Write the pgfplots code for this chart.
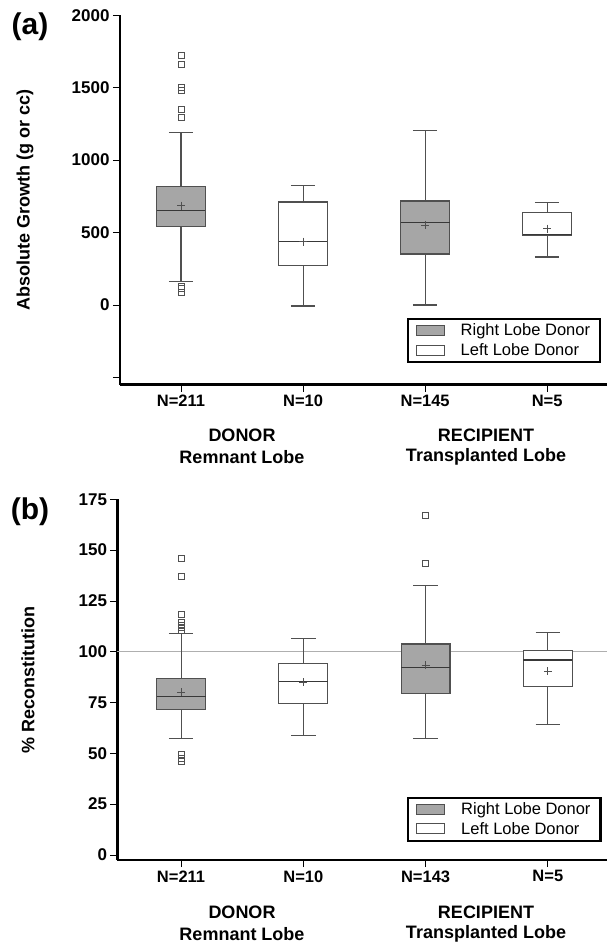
\documentclass[border=0pt]{standalone}
\usepackage{fontspec}
\setmainfont{Liberation Sans}
\usepackage{pgfplots}
\pgfplotsset{compat=1.18}
\definecolor{boxgray}{RGB}{166,166,166}
\definecolor{boxline}{RGB}{80,80,80}
\definecolor{refline}{RGB}{175,175,175}
\pgfplotsset{
  mybox/.style={
    scale only axis, anchor=south west,
    axis x line*=bottom, axis y line*=left,
    axis line style={line width=2.6pt, black, -},
    tick align=outside, major tick length=7pt,
    every tick/.style={black, line width=0.8pt},
    xtick={0,1,2,3},
    /pgf/number format/assume math mode=true,
    yticklabel style={font=\fontsize{17}{19}\selectfont\bfseries},
    xticklabel style={font=\fontsize{16.5}{19}\selectfont\bfseries},
    ylabel style={font=\fontsize{18}{20}\selectfont\bfseries, anchor=center},
    clip=false,
    every axis plot/.append style={forget plot},
    legend image code/.code={\draw[#1, line width=1pt] (0pt,-5pt) rectangle (28pt,5pt);},
    legend style={draw=black, line width=2.2pt, font=\fontsize{16.5}{19}\selectfont, anchor=south east, cells={anchor=west}, column sep=14pt, inner xsep=8pt, inner ysep=3pt, row sep=2pt},
  },
  outl/.style={only marks, mark=square, mark size=3pt, mark options={draw=boxline, fill=white, line width=0.8pt}},
  meanm/.style={only marks, mark=+, mark size=4pt, mark options={draw=boxline, line width=0.8pt}},
}
% #1 fill, #2 position, #3 lower whisker, #4 lower quartile, #5 median, #6 upper quartile, #7 upper whisker
\newcommand\drawbox[7]{%
  \pgfmathsetmacro\bL{#2-0.2}\pgfmathsetmacro\bR{#2+0.2}%
  \pgfmathsetmacro\cL{#2-0.1}\pgfmathsetmacro\cR{#2+0.1}%
  \addplot[boxline, line width=1.1pt] coordinates {(#2,#3) (#2,#4)};
  \addplot[boxline, line width=1.1pt] coordinates {(#2,#6) (#2,#7)};
  \addplot[boxline, line width=1.1pt] coordinates {(\cL,#3) (\cR,#3)};
  \addplot[boxline, line width=1.1pt] coordinates {(\cL,#7) (\cR,#7)};
  \addplot[fill=#1, draw=boxline, line width=1.1pt] coordinates {(\bL,#4) (\bR,#4) (\bR,#6) (\bL,#6)} -- cycle;
  \addplot[boxline!70!black, line width=1.4pt] coordinates {(\bL,#5) (\bR,#5)};
}
\begin{document}
\begin{tikzpicture}
\useasboundingbox (0,0) rectangle (607pt,-945pt);
% ---------- panel (a)
\begin{axis}[mybox, at={(120pt,-384.6pt)}, width=487pt, height=369.3pt,
  xmin=-0.5, xmax=3.49, ymin=-550, ymax=2000,
  ytick={-500,0,500,1000,1500,2000}, yticklabels={,0,500,1000,1500,2000},
  xticklabels={N=211,N=10,N=145,N=5},
  ylabel={Absolute Growth (g or cc)},
  ylabel style={at={(axis description cs:-0.195,0.5)}},
  legend style={at={(0.988,0.0585)}},
]
\drawbox{boxgray}{0}{159}{541}{654}{815}{1193}
\drawbox{white}{1}{-7}{272}{440}{711}{824}
\drawbox{boxgray}{2}{0}{352}{568}{718}{1202}
\drawbox{white}{3}{331}{481}{486}{637}{707}
\addplot[meanm] coordinates {(0,686) (1,437) (2,550) (3,527)};
\addplot[outl] coordinates {(0,1722) (0,1662) (0,1500) (0,1483) (0,1347) (0,1296) (0,131) (0,113) (0,90)};
\addlegendimage{fill=boxgray, draw=boxline}
\addlegendentry{Right Lobe Donor}
\addlegendimage{fill=white, draw=boxline}
\addlegendentry{Left Lobe Donor}
\end{axis}
% ---------- panel (b)
\begin{axis}[mybox, at={(117.5pt,-860pt)}, width=489pt, height=360.7pt,
  xmin=-0.52, xmax=3.48, ymin=-2.5, ymax=175,
  ytick={0,25,50,75,100,125,150,175},
  xticklabels={N=211,N=10,N=143,N=5},
  ylabel={\% Reconstitution},
  ylabel style={at={(axis description cs:-0.183,0.5)}},
  legend style={at={(0.99,0.0507)}},
]
\addplot[refline, line width=1pt] coordinates {(-0.52,100) (3.48,100)};
\drawbox{boxgray}{0}{57.1}{71.7}{78.1}{86.7}{109}
\drawbox{white}{1}{58.6}{74.7}{85.2}{94.3}{106.6}
\drawbox{boxgray}{2}{57.1}{79.6}{92.1}{103.8}{132.4}
\drawbox{white}{3}{64.3}{83.1}{95.9}{100.7}{109.5}
\addplot[meanm] coordinates {(0,80.1) (1,85) (2,93.4) (3,90.5)};
\addplot[outl] coordinates {(0,146) (0,137) (0,118.4) (0,114.3) (0,113) (0,111.9) (0,110.7) (0,49.3) (0,47.4) (0,46) (2,167) (2,143.5)};
\addlegendimage{fill=boxgray, draw=boxline}
\addlegendentry{Right Lobe Donor}
\addlegendimage{fill=white, draw=boxline}
\addlegendentry{Left Lobe Donor}
\end{axis}
% ---------- panel letters and group labels
\node[font=\fontsize{30}{32}\selectfont\bfseries] at (30pt,-27pt) {(a)};
\node[font=\fontsize{30}{32}\selectfont\bfseries] at (30pt,-512pt) {(b)};
\begin{scope}[every node/.style={font=\fontsize{18}{20}\selectfont\bfseries}]
\node at (242pt,-435pt) {DONOR};
\node at (242pt,-457pt) {Remnant Lobe};
\node at (486pt,-435pt) {RECIPIENT};
\node at (486pt,-457pt) {Transplanted Lobe};
\node at (242pt,-912pt) {DONOR};
\node at (242pt,-934pt) {Remnant Lobe};
\node at (486pt,-912pt) {RECIPIENT};
\node at (486pt,-934pt) {Transplanted Lobe};
\end{scope}
\end{tikzpicture}
\end{document}
